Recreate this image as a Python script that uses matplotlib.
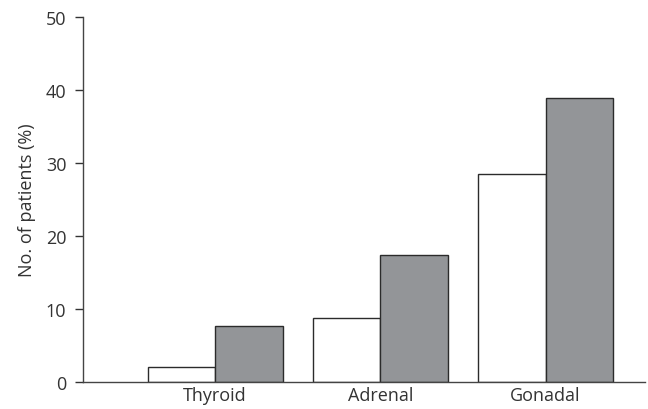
import numpy as np
import matplotlib
matplotlib.use("Agg")
from matplotlib import pyplot as plt

plt.rcParams['font.family'] = ['Open Sans', 'DejaVu Sans']

# data
categories = ["Thyroid", "Adrenal", "Gonadal"]
white_vals = [2.1, 8.7, 28.5]
gray_vals = [7.7, 17.4, 38.9]

fig = plt.figure(figsize=(6.48, 4.10), dpi=100)
ax = fig.add_axes([0.128, 0.066, 0.867, 0.890])

x = np.arange(len(categories))
w = 0.408
edge = "#2b2b2b"
ax.bar(x - w / 2, white_vals, w, color="white", edgecolor=edge, linewidth=1.0)
ax.bar(x + w / 2, gray_vals, w, color="#939598", edgecolor=edge, linewidth=1.0)

ax.set_xlim(-0.80, 2.6)
ax.set_ylim(0, 50)
ax.set_yticks([0, 10, 20, 30, 40, 50])
ax.set_xticks(x)
ax.set_xticklabels(categories)
ax.tick_params(axis='x', length=0, pad=3, labelsize=13, colors="#333333")
ax.tick_params(axis='y', length=6, width=1, direction='out', labelsize=13, colors="#333333", pad=6)
ax.set_ylabel("No. of patients (%)", fontsize=13, color="#333333", labelpad=7)

for s in ["top", "right"]:
 ax.spines[s].set_visible(False)
for s in ["left", "bottom"]:
 ax.spines[s].set_color("#444444")
 ax.spines[s].set_linewidth(1.0)

fig.savefig("out.png", dpi=100)
